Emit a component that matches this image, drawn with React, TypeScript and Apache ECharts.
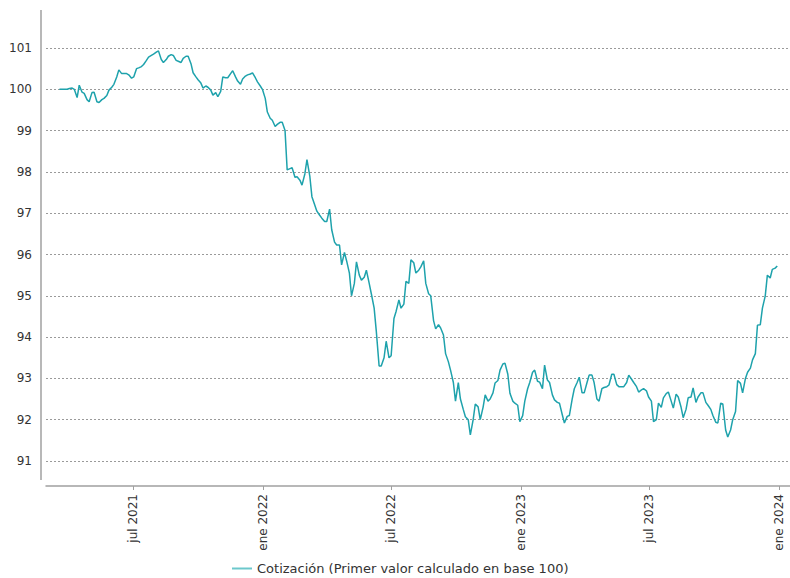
import React, { useEffect, useRef } from "react";
import * as echarts from "echarts";

const seriesName = "Cotización (Primer valor calculado en base 100)";

// Friday closes (weekly)
const fridayDates = [
  "2021-03-19", "2021-03-26", "2021-04-02", "2021-04-09", "2021-04-16", "2021-04-23", "2021-04-30",
  "2021-05-07", "2021-05-14", "2021-05-21", "2021-05-28", "2021-06-04", "2021-06-11", "2021-06-18",
  "2021-06-25", "2021-07-02", "2021-07-09", "2021-07-16", "2021-07-23", "2021-07-30", "2021-08-06",
  "2021-08-13", "2021-08-20", "2021-08-27", "2021-09-03", "2021-09-10", "2021-09-17", "2021-09-24",
  "2021-10-01", "2021-10-08", "2021-10-15", "2021-10-22", "2021-10-29", "2021-11-05", "2021-11-12",
  "2021-11-19", "2021-11-26", "2021-12-03", "2021-12-10", "2021-12-17", "2021-12-24", "2021-12-31",
  "2022-01-07", "2022-01-14", "2022-01-21", "2022-01-28", "2022-02-04", "2022-02-11", "2022-02-18",
  "2022-02-25", "2022-03-04", "2022-03-11", "2022-03-18", "2022-03-25", "2022-04-01", "2022-04-08",
  "2022-04-15", "2022-04-22", "2022-04-29", "2022-05-06", "2022-05-13", "2022-05-20", "2022-05-27",
  "2022-06-03", "2022-06-10", "2022-06-17", "2022-06-24", "2022-07-01", "2022-07-08", "2022-07-15",
  "2022-07-22", "2022-07-29", "2022-08-05", "2022-08-12", "2022-08-19", "2022-08-26", "2022-09-02",
  "2022-09-09", "2022-09-16", "2022-09-23", "2022-09-30", "2022-10-07", "2022-10-14", "2022-10-21",
  "2022-10-28", "2022-11-04", "2022-11-11", "2022-11-18", "2022-11-25", "2022-12-02", "2022-12-09",
  "2022-12-16", "2022-12-23", "2022-12-30",
  "2023-01-06", "2023-01-13", "2023-01-20", "2023-01-27", "2023-02-03", "2023-02-10", "2023-02-17",
  "2023-02-24", "2023-03-03", "2023-03-10", "2023-03-17", "2023-03-24", "2023-03-31", "2023-04-07",
  "2023-04-14", "2023-04-21", "2023-04-28", "2023-05-05", "2023-05-12", "2023-05-19", "2023-05-26",
  "2023-06-02", "2023-06-09", "2023-06-16", "2023-06-23", "2023-06-30", "2023-07-07", "2023-07-14",
  "2023-07-21", "2023-07-28", "2023-08-04", "2023-08-11", "2023-08-18", "2023-08-25", "2023-09-01",
  "2023-09-08", "2023-09-15", "2023-09-22", "2023-09-29", "2023-10-06", "2023-10-13", "2023-10-20",
  "2023-10-27", "2023-11-03", "2023-11-10", "2023-11-17", "2023-11-24", "2023-12-01", "2023-12-08",
  "2023-12-15", "2023-12-22", "2023-12-29",
];

const fridayValues = [
  100.0, 100.0, 100.02, 100.0, 100.1, 99.9, 99.7, 99.93, 99.68, 99.78,
  99.98, 100.12, 100.47, 100.38, 100.35, 100.3, 100.52, 100.6, 100.78, 100.85,
  100.93, 100.65, 100.8, 100.82, 100.68, 100.75, 100.8, 100.4, 100.23, 100.03,
  100.05, 99.86, 99.82, 100.3, 100.28, 100.45, 100.2, 100.25, 100.35, 100.4,
  100.18, 100.0, 99.45, 99.25, 99.15, 99.2, 98.05, 98.1, 97.88, 97.68,
  98.3, 97.4, 97.05, 96.88, 96.8, 96.6, 96.23, 95.75, 95.85, 95.0,
  95.82, 95.38, 95.62, 95.05, 94.15, 93.3, 93.9, 93.55, 94.62, 94.7,
  95.35, 95.87, 95.55, 95.7, 95.3, 95.0, 94.2, 94.22, 93.6, 93.2,
  92.45, 92.5, 92.07, 91.63, 92.38, 92.0, 92.6, 92.5, 92.89, 93.2,
  93.37, 92.64, 92.4, 91.95, 92.45, 92.9, 93.2, 92.91, 93.32, 92.9,
  92.48, 92.4, 91.92, 92.1, 92.75, 93.03, 92.65, 93.08, 92.9, 92.45,
  92.78, 92.84, 93.1, 92.8, 92.8, 93.08, 92.9, 92.67, 92.75, 92.55,
  91.95, 92.4, 92.53, 92.67, 92.28, 92.55, 92.05, 92.53, 92.77, 92.55,
  92.65, 92.35, 92.1, 91.92, 92.38, 91.58, 92.0, 92.95, 92.65, 93.15,
  93.45, 94.29, 94.7, 95.5, 95.64, 95.72,
];

// Tuesday closes (the Tuesday following each Friday above, i.e. four days later)
const tuesdayValues = [
  100.0, 100.0, 100.03, 99.8, 99.93, 99.75, 99.92, 99.7, 99.75, 99.85,
  100.05, 100.3, 100.38, 100.38, 100.27, 100.5, 100.55, 100.7, 100.82, 100.9,
  100.72, 100.72, 100.84, 100.7, 100.65, 100.8, 100.62, 100.3, 100.15, 100.08,
  99.98, 99.92, 99.95, 100.28, 100.38, 100.3, 100.12, 100.32, 100.37, 100.28,
  100.08, 99.78, 99.3, 99.1, 99.2, 99.0, 98.08, 97.87, 97.8, 97.95,
  97.9, 97.2, 96.95, 96.8, 97.1, 96.3, 96.23, 96.05, 95.55, 95.3,
  95.5, 95.45, 95.3, 94.7, 93.3, 93.5, 93.5, 94.45, 94.9, 94.8,
  95.3, 95.8, 95.62, 95.85, 95.05, 94.4, 94.3, 94.05, 93.4, 92.9,
  92.9, 92.25, 92.0, 92.0, 92.31, 92.3, 92.45, 92.65, 92.95, 93.35,
  93.1, 92.45, 92.35, 92.1, 92.75, 93.15, 92.93, 92.75, 92.96, 92.6,
  92.42, 92.12, 92.08, 92.5, 92.9, 92.65, 92.9, 93.08, 92.5, 92.75,
  92.8, 93.1, 92.85, 92.8, 92.9, 92.98, 92.8, 92.72, 92.7, 92.45,
  92.0, 92.3, 92.63, 92.45, 92.62, 92.3, 92.25, 92.55, 92.42, 92.65,
  92.42, 92.25, 91.94, 92.4, 91.75, 91.75, 92.2, 92.88, 93.0, 93.25,
  93.6, 94.3, 95.0, 95.43, 95.67,
];

const tickDates = ["2021-07-01", "2022-01-01", "2022-07-01", "2023-01-01", "2023-07-01", "2024-01-01"];
const tickLabels = ["jul 2021", "ene 2022", "jul 2022", "ene 2023", "jul 2023", "ene 2024"];

const xMinDate = "2021-02-28";
const xMaxDate = "2024-01-16";
const yMin = 91;
const yMax = 101;
const yStep = 1;

const DAY = 86400000;

function ts(s: string): number {
  const [y, m, d] = s.split("-").map(Number);
  return Date.UTC(y, m - 1, d);
}

function buildSeries(): [number, number][] {
  const out: [number, number][] = [];
  fridayDates.forEach((d, i) => {
    const t = ts(d);
    out.push([t, fridayValues[i]]);
    if (i < tuesdayValues.length) out.push([t + 4 * DAY, tuesdayValues[i]]);
  });
  return out;
}

export default function App() {
  const ref = useRef<HTMLDivElement>(null);

  useEffect(() => {
    if (!ref.current) return;
    const chart = echarts.init(ref.current, undefined, { renderer: "svg" });
    const tickTs = tickDates.map(ts);
    const font = "'DejaVu Sans', sans-serif";

    chart.setOption({
      animation: false,
      backgroundColor: "#ffffff",
      textStyle: { fontFamily: font },
      grid: { left: 46, right: 0, top: 48, height: 413 },
      legend: {
        show: true,
        left: 232,
        top: 562,
        padding: 0,
        itemWidth: 20,
        itemHeight: 2,
        icon: "rect",
        itemGap: 6,
        textStyle: { fontFamily: font, fontSize: 13, color: "#333333" },
        data: [{ name: seriesName, itemStyle: { color: "#6cc8cc" } }],
      },
      xAxis: {
        type: "value",
        min: ts(xMinDate),
        max: ts(xMaxDate),
        offset: 25,
        axisLine: { show: true, lineStyle: { color: "#a0a0a0", width: 1.5 } },
        axisTick: {
          show: true,
          length: 4,
          customValues: tickTs,
          lineStyle: { color: "#a0a0a0" },
        },
        axisLabel: {
          customValues: tickTs,
          rotate: 90,
          margin: 8,
          fontFamily: font,
          fontSize: 12,
          color: "#333333",
          formatter: (v: number) => {
            let best = 0;
            let bd = Infinity;
            tickTs.forEach((t, i) => {
              const d = Math.abs(t - v);
              if (d < bd) {
                bd = d;
                best = i;
              }
            });
            return tickLabels[best];
          },
        },
        splitLine: { show: false },
      },
      yAxis: {
        type: "value",
        min: yMin,
        max: yMax,
        interval: yStep,
        axisLine: { show: false },
        axisTick: { show: false },
        axisLabel: { margin: 14, fontFamily: font, fontSize: 12, color: "#333333" },
        splitLine: { show: true, lineStyle: { color: "#9a9a9a", type: [2, 2], width: 1 } },
      },
      graphic: [
        {
          type: "line",
          shape: { x1: 41, y1: 10, x2: 41, y2: 480 },
          style: { stroke: "#a0a0a0", lineWidth: 1.5 },
          silent: true,
        },
      ],
      series: [
        {
          name: seriesName,
          type: "line",
          data: buildSeries(),
          showSymbol: false,
          symbol: "none",
          lineStyle: { color: "#1ea2ac", width: 1.5 },
          itemStyle: { color: "#1ea2ac" },
        },
      ],
    });
    return () => chart.dispose();
  }, []);

  return (
    <div
      ref={ref}
      style={{ position: "absolute", left: 0, top: 0, width: 790, height: 578 }}
    />
  );
}
